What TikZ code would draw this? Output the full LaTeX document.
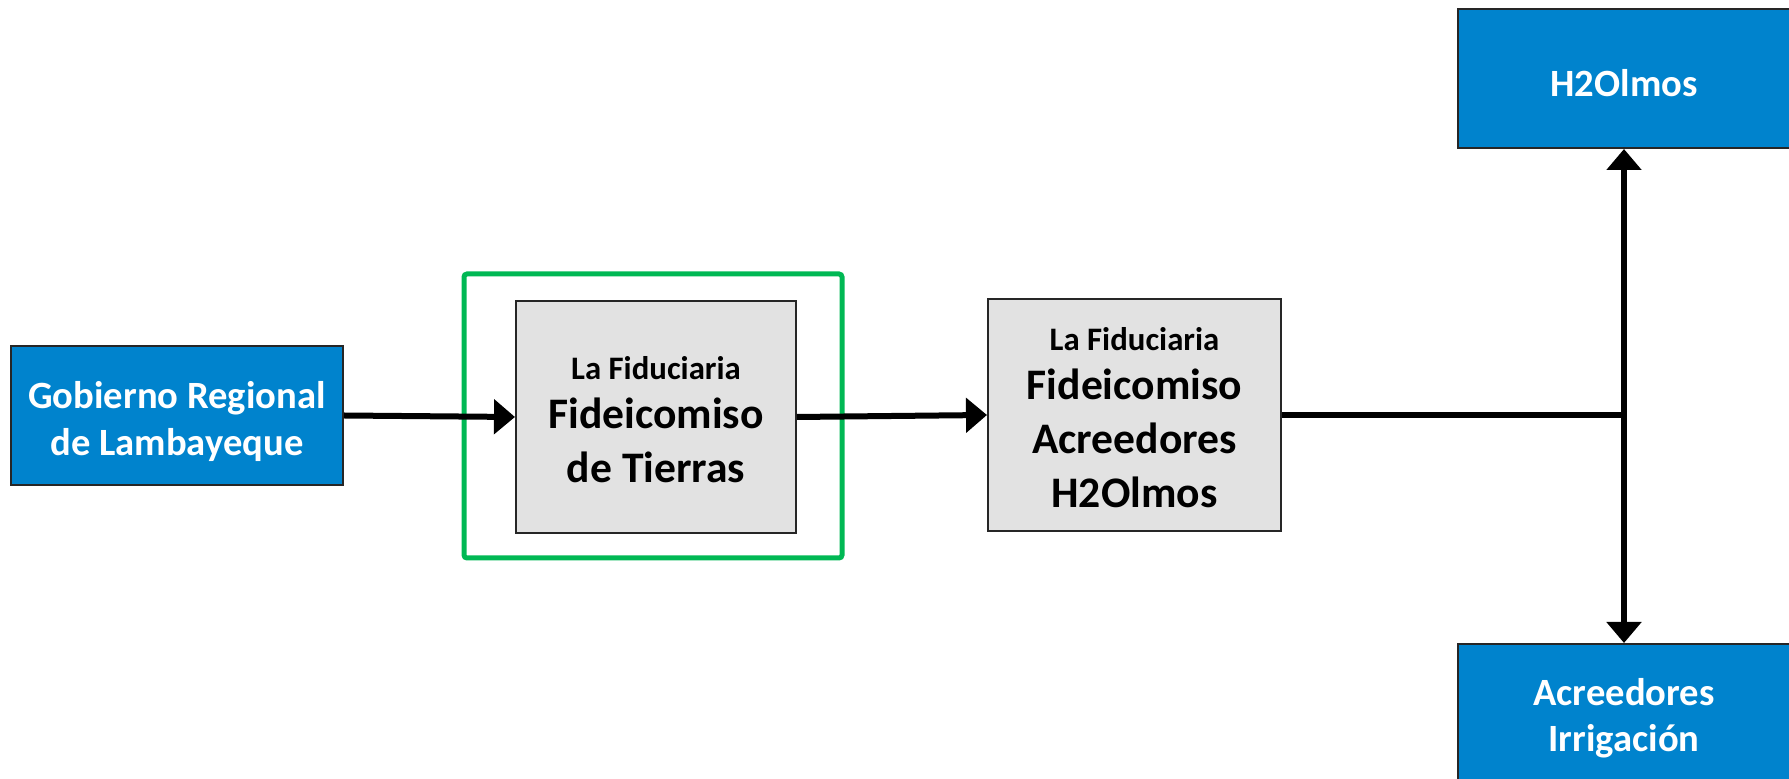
\documentclass[tikz,border=0pt]{standalone}
\usepackage{fontspec}
\setmainfont{Carlito}
\usetikzlibrary{arrows.meta,positioning}

\definecolor{boxblue}{RGB}{0,131,205}
\definecolor{boxgray}{RGB}{226,226,226}
\definecolor{framegreen}{RGB}{0,184,84}

% pushes a first line down a little, as the slide did
\newcommand{\tstrut}[1]{\rule{0pt}{#1}}

\tikzset{
    bluebox/.style={draw=black!85, line width=1pt, fill=boxblue, text=white,
        minimum width=166pt, minimum height=69.5pt, inner sep=0pt, align=center,
        font=\fontsize{19.3}{23.2}\selectfont\bfseries},
    graybox/.style={draw=black!85, line width=1pt, fill=boxgray, text=black,
        minimum height=116pt, inner sep=0pt, align=center,
        font=\fontsize{21.8}{27}\selectfont\bfseries},
    flow/.style={line width=3pt, -{Triangle[length=10.5pt,width=17pt]}},
    plainline/.style={line width=3pt}
}

\begin{document}
\begin{tikzpicture}[x=0.5pt,y=-0.5pt]
        \useasboundingbox (0,0) rectangle (1789,779);
        \clip (0,0) rectangle (1789,779);

        % boxes
        \node [bluebox] (gob) at (177,415.5) {\tstrut{19.5pt}Gobierno Regional\\de Lambayeque};
        \node [graybox, minimum width=140pt] (fid1) at (656,417)
            {{\fontsize{16.4}{24}\selectfont\tstrut{14.5pt}La Fiduciaria}\\[-2.5pt]Fideicomiso\\de Tierras};
        \node [graybox, minimum width=146.5pt] (fid2) at (1134.5,415)
            {{\fontsize{16.4}{24}\selectfont\tstrut{14.5pt}La Fiduciaria}\\[-2.5pt]Fideicomiso\\Acreedores\\H2Olmos};
        \node [bluebox] (h2o) at (1624,78.5) {\tstrut{18.5pt}H2Olmos};
        \node [bluebox] (acr) at (1624,713.5) {\tstrut{18pt}Acreedores\\Irrigación};

        % green frame round the land trust
        \draw [framegreen, line width=2.5pt, rounded corners=1.5pt] (464,274) rectangle (842,558);

        % connectors
        \coordinate (jn) at (1624,415);
        \draw [flow] (gob.east) -- (fid1.west);
        \draw [flow] (fid1.east) -- (fid2.west);
        \draw [plainline] (fid2.east) -- ([xshift=1.5pt]jn);
        \draw [flow] (jn) -- (h2o.south);
        \draw [flow] (jn) -- (acr.north);
\end{tikzpicture}
\end{document}
